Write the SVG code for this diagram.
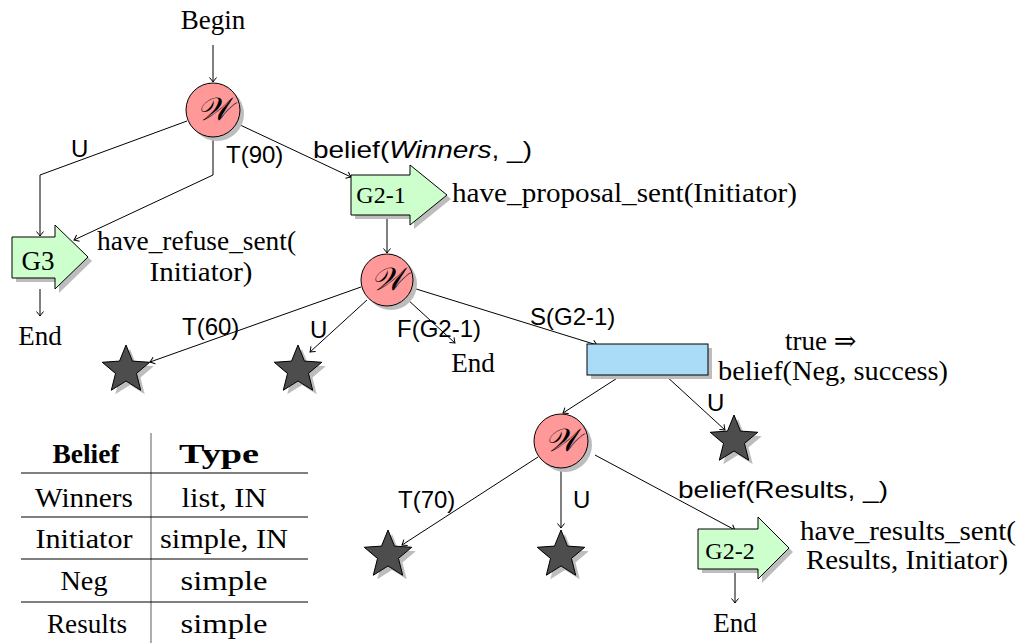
<svg xmlns="http://www.w3.org/2000/svg" xmlns:xlink="http://www.w3.org/1999/xlink" width="1025" height="643" viewBox="0 0 1025 643">
<style>
.serif{font-family:"Liberation Serif","DejaVu Serif",serif;font-size:27px;fill:#000}
.sans{font-family:"Liberation Sans","DejaVu Sans",sans-serif;font-size:24px;fill:#000}
.gl{font-family:"Liberation Serif",serif;font-size:24px;text-anchor:middle}
.bold{font-weight:bold}
.mid{text-anchor:middle}
.edge{fill:none;stroke:#000;stroke-width:1;marker-end:url(#arr)}
.shadow{fill:#bdbdbd}
.wnode{fill:#ff9999;stroke:#000;stroke-width:1}
.goal{fill:#ccffcc;stroke:#000;stroke-width:1}
.act{fill:#aadcf7;stroke:#000;stroke-width:1}
.star{fill:#4d4d4d;stroke:#000;stroke-width:1}
.wtxt{font-family:"DejaVu Serif",serif;font-style:italic;font-size:32px;text-anchor:middle}
.hl{stroke:#000;stroke-width:1}
.vl{stroke:#777;stroke-width:1.2}
</style>
<defs>
<marker id="arr" viewBox="-6 -5 7 10" refX="0" refY="0" markerWidth="7" markerHeight="10" orient="auto" markerUnits="userSpaceOnUse">
<path d="M-4.5,-3.5 Q-1.5,-1 0,0 Q-1.5,1 -4.5,3.5" fill="none" stroke="#000" stroke-width="1"/>
</marker>
<path id="star" d="M0,-25 L6.47,-8.9 L23.78,-7.73 L10.46,3.4 L14.69,20.23 L0,11 L-14.69,20.23 L-10.46,3.4 L-23.78,-7.73 L-6.47,-8.9 Z"/>
</defs>

<g id="connectors">
<line class="edge" x1="213" y1="45" x2="213" y2="82"/>
<polyline class="edge" points="187,121 40,175 40,236"/>
<polyline class="edge" points="213,137 213,175 74,240"/>
<line class="edge" x1="238" y1="124" x2="351" y2="177"/>
<line class="edge" x1="387" y1="215" x2="387" y2="253"/>
<line class="edge" x1="40" y1="289" x2="40" y2="316"/>
<line class="edge" x1="361" y1="287" x2="150" y2="362"/>
<line class="edge" x1="367" y1="300" x2="310" y2="352"/>
<line class="edge" x1="407" y1="299" x2="455" y2="343"/>
<line class="edge" x1="413" y1="288" x2="597" y2="345"/>
<line class="edge" x1="622" y1="375" x2="563" y2="413"/>
<line class="edge" x1="665" y1="375" x2="725" y2="430"/>
<line class="edge" x1="538" y1="457" x2="402" y2="545"/>
<line class="edge" x1="561" y1="468" x2="561" y2="528"/>
<line class="edge" x1="595" y1="455" x2="735" y2="530"/>
<line class="edge" x1="735" y1="569" x2="735" y2="603"/>
<text class="sans" x="71" y="157">U</text>
<text class="sans" x="226" y="163">T(90)</text>
<text class="sans" x="313" y="158" textLength="219" lengthAdjust="spacingAndGlyphs">belief(<tspan font-style="italic">Winners</tspan>, _)</text>
<text class="sans" x="182" y="335">T(60)</text>
<text class="sans" x="310" y="338">U</text>
<text class="sans" x="397" y="337">F(G2-1)</text>
<text class="sans" x="530" y="325">S(G2-1)</text>
<text class="sans" x="707" y="411">U</text>
<text class="sans" x="398" y="508">T(70)</text>
<text class="sans" x="573" y="508">U</text>
<text class="sans" x="678" y="498" textLength="210" lengthAdjust="spacingAndGlyphs">belief(Results, _)</text>
</g>

<g id="begin"><text class="serif mid" x="213" y="29">Begin</text></g>

<g id="w1">
<circle class="shadow" cx="217" cy="114" r="27"/>
<circle class="wnode" cx="213" cy="110" r="27"/>
<text class="wtxt" x="214" y="120">𝒲</text>
</g>

<g id="g3">
<path class="shadow" d="M16,241 H59 V229 L92,261 L59,293 V282 H16 Z"/>
<path class="goal" d="M12,237 H55 V225 L88,257 L55,289 V278 H12 Z"/>
<text class="serif mid" x="38" y="270">G3</text>
<text class="serif" x="97" y="250" textLength="199" lengthAdjust="spacingAndGlyphs">have_refuse_sent(</text>
<text class="serif mid" x="201" y="281" textLength="103" lengthAdjust="spacingAndGlyphs">Initiator)</text>
</g>

<g id="end1"><text class="serif mid" x="40" y="345">End</text></g>

<g id="g21">
<path class="shadow" d="M355,179 H414 V169 L451,199 L414,229 V219 H355 Z"/>
<path class="goal" d="M351,175 H410 V165 L447,195 L410,225 V215 H351 Z"/>
<text class="gl" x="381" y="203">G2-1</text>
<text class="serif" x="452" y="202" textLength="345" lengthAdjust="spacingAndGlyphs">have_proposal_sent(Initiator)</text>
</g>

<g id="w2">
<circle class="shadow" cx="391" cy="284" r="26"/>
<circle class="wnode" cx="387" cy="280" r="26"/>
<text class="wtxt" x="388" y="290">𝒲</text>
</g>

<g id="star1"><use xlink:href="#star" class="shadow" x="130" y="374"/><use xlink:href="#star" class="star" x="126" y="370"/></g>
<g id="star2"><use xlink:href="#star" class="shadow" x="302" y="374"/><use xlink:href="#star" class="star" x="298" y="370"/></g>

<g id="end2"><text class="serif mid" x="473" y="372">End</text></g>

<g id="action">
<rect class="shadow" x="591" y="348" width="121" height="31"/>
<rect class="act" x="587" y="344" width="121" height="31"/>
<text class="serif" x="785" y="350">true ⇒</text>
<text class="serif" x="718" y="380" textLength="230" lengthAdjust="spacingAndGlyphs">belief(Neg, success)</text>
</g>

<g id="star3"><use xlink:href="#star" class="shadow" x="738" y="444"/><use xlink:href="#star" class="star" x="734" y="440"/></g>

<g id="w3">
<circle class="shadow" cx="565" cy="445" r="27"/>
<circle class="wnode" cx="561" cy="441" r="27"/>
<text class="wtxt" x="562" y="451">𝒲</text>
</g>

<g id="star4"><use xlink:href="#star" class="shadow" x="392" y="559"/><use xlink:href="#star" class="star" x="388" y="555"/></g>
<g id="star5"><use xlink:href="#star" class="shadow" x="565" y="559"/><use xlink:href="#star" class="star" x="561" y="555"/></g>

<g id="g22">
<path class="shadow" d="M702,533 H762 V521 L793,552 L762,583 V573 H702 Z"/>
<path class="goal" d="M698,529 H758 V517 L789,548 L758,579 V569 H698 Z"/>
<text class="gl" x="730" y="559">G2-2</text>
<text class="serif" x="800" y="540" textLength="216" lengthAdjust="spacingAndGlyphs">have_results_sent(</text>
<text class="serif" x="806" y="569" textLength="202" lengthAdjust="spacingAndGlyphs">Results, Initiator)</text>
</g>

<g id="end3"><text class="serif mid" x="735" y="632">End</text></g>

<g id="table">
<line class="vl" x1="151" y1="433" x2="151" y2="643"/>
<line class="hl" x1="21" y1="473" x2="308" y2="473"/>
<line class="hl" x1="21" y1="517" x2="308" y2="517"/>
<line class="hl" x1="21" y1="559" x2="308" y2="559"/>
<line class="hl" x1="21" y1="602" x2="308" y2="602"/>
<text class="serif bold mid" x="86" y="463" textLength="67" lengthAdjust="spacingAndGlyphs">Belief</text>
<text class="serif bold mid" x="219" y="463" textLength="80" lengthAdjust="spacingAndGlyphs">Type</text>
<text class="serif mid" x="84" y="507" textLength="98" lengthAdjust="spacingAndGlyphs">Winners</text>
<text class="serif mid" x="224" y="507" textLength="85" lengthAdjust="spacingAndGlyphs">list, IN</text>
<text class="serif mid" x="84" y="548" textLength="97" lengthAdjust="spacingAndGlyphs">Initiator</text>
<text class="serif mid" x="224" y="548" textLength="128" lengthAdjust="spacingAndGlyphs">simple, IN</text>
<text class="serif mid" x="84" y="590" textLength="47" lengthAdjust="spacingAndGlyphs">Neg</text>
<text class="serif mid" x="224" y="590" textLength="87" lengthAdjust="spacingAndGlyphs">simple</text>
<text class="serif mid" x="87" y="633" textLength="80" lengthAdjust="spacingAndGlyphs">Results</text>
<text class="serif mid" x="224" y="633" textLength="87" lengthAdjust="spacingAndGlyphs">simple</text>
</g>
</svg>
